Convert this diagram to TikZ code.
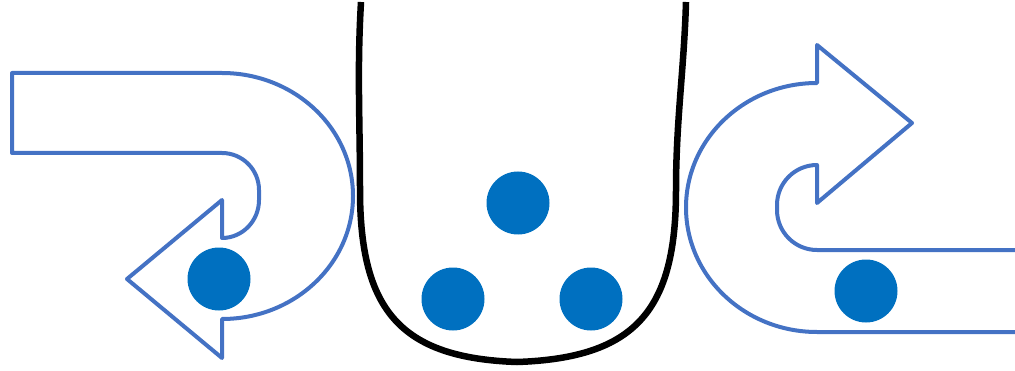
\documentclass[tikz,border=0pt]{standalone}
\begin{document}
\begin{tikzpicture}[x=1pt,y=1pt,
  flow/.style={draw={rgb,255:red,68;green,114;blue,196}, line width=4pt, line join=round},
  ball/.style={circle, fill={rgb,255:red,0;green,112;blue,192}, inner sep=0pt, minimum size=63pt},
  cup/.style={draw=black, line width=6.5pt}]
\useasboundingbox (0,0) rectangle (1015,370);
\clip (0,0) rectangle (1015,370);
% left U-turn arrow
\draw[flow] (12,297) -- (222,297)
  arc[start angle=90, end angle=-90, x radius=131, y radius=123]
  -- (222,12) -- (127,91) -- (222,170) -- (222,132)
  arc[start angle=-90, end angle=0, x radius=37, y radius=38]
  -- (259,180)
  arc[start angle=0, end angle=90, radius=37]
  -- (12,217) -- cycle;
% right U-turn arrow
\draw[flow] (1015,120) -- (817,120)
  arc[start angle=270, end angle=180, radius=40]
  -- (777,165)
  arc[start angle=180, end angle=90, radius=40]
  -- (817,167) -- (912,247) -- (817,325) -- (817,287)
  arc[start angle=90, end angle=270, x radius=131, y radius=124.5]
  -- (1015,38);
% cup
\coordinate (ctop1) at (361,368);
\coordinate (cl) at (360,180);
\coordinate (cb) at (517,8);
\coordinate (cr) at (676,180);
\coordinate (ctop2) at (686,368);
\draw[cup] (ctop1) .. controls (357,300) and (360,250) .. (cl)
  .. controls (360,60) and (400,12) .. (cb)
  .. controls (636,12) and (676,60) .. (cr)
  .. controls (676,250) and (684,300) .. (ctop2);
% balls
\node[ball] (bl) at (219,91) {};
\node[ball] (ct) at (518,167) {};
\node[ball] (bcl) at (453,71) {};
\node[ball] (bcr) at (591,71) {};
\node[ball] (br) at (866,79) {};
\end{tikzpicture}
\end{document}
